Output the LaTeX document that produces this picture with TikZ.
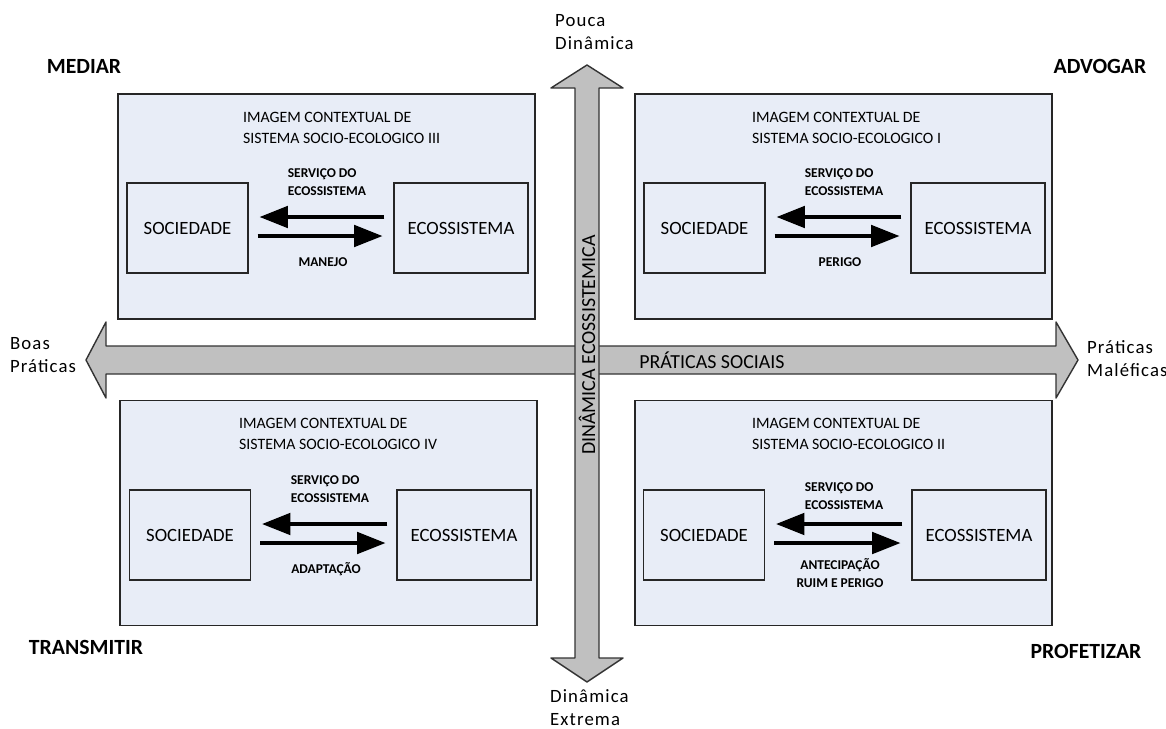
\documentclass[tikz,border=0pt]{standalone}
\usepackage{fontspec}
\setmainfont{Carlito}
\usetikzlibrary{arrows.meta}
\usepackage{xcolor}
\definecolor{panelblue}{RGB}{232,237,247}
\definecolor{arrowgray}{RGB}{192,192,192}
\tikzset{
  panel/.style={draw=black!85,line width=1.2pt,fill=panelblue,minimum width=12.51cm,minimum height=6.75cm,inner sep=0},
  soc/.style={draw=black!85,line width=1pt,fill=panelblue,minimum width=3.63cm,minimum height=2.7cm,font=\fontsize{16}{18}\selectfont},
  eco/.style={soc,minimum width=4.02cm},
  title/.style={anchor=west,align=left,font=\fontsize{13.5}{18}\selectfont},
  flow label/.style={align=left,font=\bfseries\fontsize{11.5}{16}\selectfont},
  corner/.style={font=\bfseries\fontsize{18.5}{20}\selectfont},
  side/.style={align=left,anchor=west,font=\addfontfeature{LetterSpace=6}\fontsize{16}{19.5}\selectfont},
  axis text/.style={font=\fontsize{17}{19}\selectfont},
  big arrow/.style={draw=black!80,line width=1.2pt,fill=arrowgray,line join=round},
  flow arrow/.style={-{Triangle[length=0.85cm,width=0.65cm]},line width=2.6pt,shorten <=0.27cm,shorten >=0.33cm}
}

\begin{document}
\begin{tikzpicture}[x=0.03cm,y=-0.03cm]
    \useasboundingbox (0,0) rectangle (1166,729);

    % panels
    \node[panel] (pIII) at (326.5,206.5) {};
    \node[panel] (pI) at (843.5,206.5) {};
    \node[panel] (pIV) at (328.5,513) {};
    \node[panel] (pII) at (843.5,513) {};

    % big axes
    \draw[big arrow] (86,360) -- (106,322) -- (106,346) -- (1056,346) -- (1056,322) -- (1078,360)
        -- (1056,398) -- (1056,374) -- (106,374) -- (106,398) -- cycle;
    \draw[big arrow] (587,65) -- (623,88) -- (599,88) -- (599,658) -- (623,658) -- (587,682)
        -- (551,658) -- (575,658) -- (575,88) -- (551,88) -- cycle;
    \node[axis text] (praticas) at (712,360) {PRÁTICAS SOCIAIS};
    \node[axis text,rotate=90] (dinamica) at (587,345) {DINÂMICA ECOSSISTEMICA};

    \node[side] (boas) at (6,355) {Boas\\Práticas};
    \node[side] (maleficas) at (1083,359) {Práticas\\Maléficas};
    \node[side] (pouca) at (551,32) {Pouca\\Dinâmica};
    \node[side] (extrema) at (546,708) {Dinâmica\\Extrema};

    \node[corner] (mediar) at (84,66) {MEDIAR};
    \node[corner] (advogar) at (1100,66) {ADVOGAR};
    \node[corner] (transmitir) at (86,647) {TRANSMITIR};
    \node[corner] (profetizar) at (1086,651) {PROFETIZAR};

    % panel III
    \node[title] (tIII) at (239,128) {IMAGEM CONTEXTUAL DE\\SISTEMA SOCIO-ECOLOGICO III};
    \node[soc] (socIII) at (187.5,228) {SOCIEDADE};
    \node[eco] (ecoIII) at (461,228) {ECOSSISTEMA};
    \draw[flow arrow] ([yshift=0.33cm]ecoIII.west) -- ([yshift=0.33cm]socIII.east);
    \draw[flow arrow] ([yshift=-0.24cm]socIII.east) -- ([yshift=-0.24cm]ecoIII.west);
    \node[flow label] (sIII) at (327,182) {SERVIÇO DO\\ECOSSISTEMA};
    \node[flow label] (mIII) at (323,262) {MANEJO};

    % panel I
    \node[title] (tI) at (748,128) {IMAGEM CONTEXTUAL DE\\SISTEMA SOCIO-ECOLOGICO I};
    \node[soc] (socI) at (704.5,228) {SOCIEDADE};
    \node[eco] (ecoI) at (978,228) {ECOSSISTEMA};
    \draw[flow arrow] ([yshift=0.33cm]ecoI.west) -- ([yshift=0.33cm]socI.east);
    \draw[flow arrow] ([yshift=-0.24cm]socI.east) -- ([yshift=-0.24cm]ecoI.west);
    \node[flow label] (sI) at (844,182) {SERVIÇO DO\\ECOSSISTEMA};
    \node[flow label] (mI) at (840,262) {PERIGO};

    % panel IV
    \node[title] (tIV) at (235,434) {IMAGEM CONTEXTUAL DE\\SISTEMA SOCIO-ECOLOGICO IV};
    \node[soc] (socIV) at (190,535) {SOCIEDADE};
    \node[eco] (ecoIV) at (464,535) {ECOSSISTEMA};
    \draw[flow arrow] ([yshift=0.33cm]ecoIV.west) -- ([yshift=0.33cm]socIV.east);
    \draw[flow arrow] ([yshift=-0.24cm]socIV.east) -- ([yshift=-0.24cm]ecoIV.west);
    \node[flow label] (sIV) at (330,489) {SERVIÇO DO\\ECOSSISTEMA};
    \node[flow label] (mIV) at (326,569) {ADAPTAÇÃO};

    % panel II
    \node[title] (tII) at (748,434) {IMAGEM CONTEXTUAL DE\\SISTEMA SOCIO-ECOLOGICO II};
    \node[soc] (socII) at (704,535) {SOCIEDADE};
    \node[eco] (ecoII) at (979,535) {ECOSSISTEMA};
    \draw[flow arrow] ([yshift=0.33cm]ecoII.west) -- ([yshift=0.33cm]socII.east);
    \draw[flow arrow] ([yshift=-0.24cm]socII.east) -- ([yshift=-0.24cm]ecoII.west);
    \node[flow label] (sII) at (844,496) {SERVIÇO DO\\ECOSSISTEMA};
    \node[flow label,align=center] (mII) at (840,573) {ANTECIPAÇÃO\\RUIM E PERIGO};
\end{tikzpicture}
\end{document}
